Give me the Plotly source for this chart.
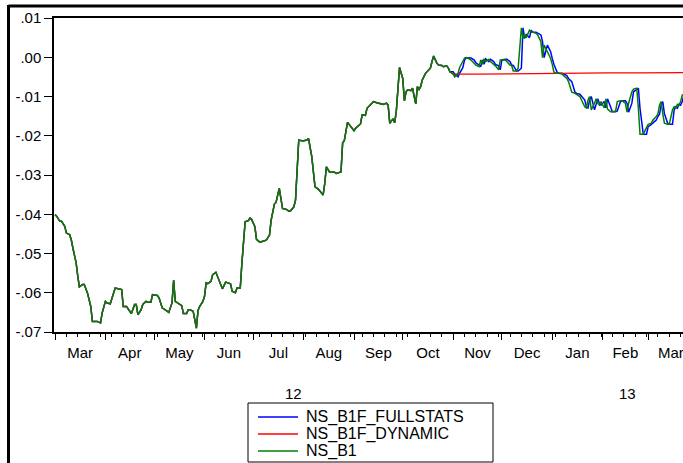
import pandas as pd
import plotly.graph_objects as go

# Observation days, counted from 2012-03-01
days = [
    0, 1, 3, 4, 6, 7, 9, 10, 11, 13, 14, 15, 17, 18, 20, 22, 23, 26, 28, 29,
    31, 32, 34, 37, 39, 41, 42, 44, 46, 47, 49, 50, 51, 53, 54, 56, 57, 59, 60, 63,
    64, 66, 67, 69, 70, 72, 73, 74, 76, 78, 79, 81, 82, 83, 85, 87, 88, 89, 91, 92,
    93, 94, 96, 97, 99, 100, 102, 103, 105, 106, 108, 109, 111, 112, 114, 115, 116, 117, 119, 120,
    121, 123, 124, 126, 127, 129, 130, 132, 133, 135, 136, 138, 139, 140, 142, 144, 145, 147, 148, 150,
    152, 153, 155, 156, 158, 159, 160, 162, 164, 165, 166, 167, 169, 170, 172, 173, 175, 176, 177, 178,
    180, 182, 184, 185, 187, 188, 189, 191, 192, 194, 196, 198, 200, 202, 204, 205, 206, 208, 209, 210,
    212, 214, 215, 216, 217, 219, 220, 222, 223, 224, 225, 226, 228, 229, 231, 232, 233, 235, 236, 238,
    239, 241, 242, 243,
    245, 246, 248, 249, 251, 252, 253, 254, 256, 258, 259, 261, 262, 263, 264, 265, 267, 268, 270, 271,
    273, 274, 275, 277, 278, 280, 281, 282, 284, 285, 287, 288, 289, 290, 292, 293, 294, 296, 297, 299,
    300, 301, 303, 305, 306, 307, 309, 310, 312, 313, 315, 316, 318, 320, 321, 323, 324, 326, 327, 328,
    329, 330, 332, 333, 334, 335, 336, 338, 339, 340, 342, 343, 345, 346, 348, 349, 351, 352, 353, 355,
    356, 358, 359, 360, 362, 364, 365, 367, 368, 370, 371, 372, 373, 374, 375, 377, 378, 380, 381, 382,
    383, 384, 385, 386, 387,
]

# Actual series NS_B1
ns_b1 = [
    -0.0401, -0.0405, -0.0418, -0.0418, -0.0431, -0.0448, -0.0452, -0.0465, -0.0486, -0.0524,
    -0.0558, -0.0585, -0.0579, -0.0579, -0.0601, -0.0635, -0.0673, -0.0673, -0.0677, -0.0652,
    -0.0622, -0.0626, -0.0628, -0.0588, -0.0590, -0.0592, -0.0635, -0.0635, -0.0647, -0.0653,
    -0.0630, -0.0630, -0.0656, -0.0643, -0.0630, -0.0622, -0.0624, -0.0624, -0.0605, -0.0607,
    -0.0613, -0.0639, -0.0641, -0.0647, -0.0650, -0.0626, -0.0568, -0.0622, -0.0628, -0.0633,
    -0.0653, -0.0653, -0.0643, -0.0643, -0.0647, -0.0690, -0.0645, -0.0635, -0.0622, -0.0609,
    -0.0575, -0.0577, -0.0571, -0.0554, -0.0548, -0.0558, -0.0579, -0.0590, -0.0573, -0.0575,
    -0.0577, -0.0596, -0.0600, -0.0588, -0.0588, -0.0525, -0.0474, -0.0419, -0.0416, -0.0410,
    -0.0413, -0.0432, -0.0464, -0.0471, -0.0470, -0.0466, -0.0466, -0.0453, -0.0415, -0.0374,
    -0.0370, -0.0334, -0.0364, -0.0385, -0.0387, -0.0392, -0.0391, -0.0381, -0.0364, -0.0211,
    -0.0213, -0.0213, -0.0211, -0.0207, -0.0253, -0.0287, -0.0330, -0.0336, -0.0347, -0.0351,
    -0.0321, -0.0279, -0.0293, -0.0293, -0.0293, -0.0296, -0.0292, -0.0292, -0.0218, -0.0213,
    -0.0166, -0.0177, -0.0187, -0.0181, -0.0174, -0.0170, -0.0147, -0.0148, -0.0130, -0.0122,
    -0.0113, -0.0116, -0.0118, -0.0120, -0.0117, -0.0122, -0.0168, -0.0157, -0.0167, -0.0139,
    -0.0026, -0.0054, -0.0111, -0.0088, -0.0083, -0.0085, -0.0079, -0.0119, -0.0075, -0.0082,
    -0.0075, -0.0058, -0.0041, -0.0037, -0.0028, -0.0011, 0.0003, -0.0015, -0.0020, -0.0021,
    -0.0024, -0.0022, -0.0027, -0.0037,
    -0.0043, -0.0050, -0.0041, -0.0026, -0.0007, -0.0002, -0.0001, -0.0002, -0.0007, -0.0014,
    -0.0020, -0.0024, -0.0007, -0.0018, -0.0004, -0.0011, -0.0005, -0.0011, -0.0018, -0.0022,
    -0.0032, -0.0007, -0.0007, -0.0005, -0.0011, -0.0020, -0.0021, -0.0035, -0.0035, -0.0028,
    0.0075, 0.0048, 0.0058, 0.0050, 0.0069, 0.0064, 0.0064, 0.0061, 0.0057, 0.0040,
    -0.0001, 0.0031, 0.0014, -0.0003, -0.0018, -0.0038, -0.0041, -0.0041, -0.0043, -0.0047,
    -0.0054, -0.0062, -0.0089, -0.0092, -0.0094, -0.0100, -0.0109, -0.0126, -0.0129, -0.0109,
    -0.0100, -0.0134, -0.0117, -0.0106, -0.0117, -0.0122, -0.0113, -0.0129, -0.0106, -0.0132,
    -0.0139, -0.0139, -0.0137, -0.0113, -0.0111, -0.0111, -0.0117, -0.0140, -0.0117, -0.0088,
    -0.0081, -0.0079, -0.0130, -0.0196, -0.0196, -0.0177, -0.0171, -0.0168, -0.0160, -0.0151,
    -0.0145, -0.0122, -0.0113, -0.0143, -0.0168, -0.0171, -0.0171, -0.0134, -0.0126, -0.0130,
    -0.0120, -0.0122, -0.0113, -0.0096, -0.0094,
]

# Forecast sample starts 2012-11-01 (day 245); actuals are kept before it
forecast_start_day = 245

# One-step-ahead (full statistics) forecast over the forecast sample
fullstats_fc = [
    -0.0037, -0.0043, -0.0050, -0.0041, -0.0026, -0.0007, -0.0002, -0.0001, -0.0002, -0.0007,
    -0.0014, -0.0020, -0.0024, -0.0007, -0.0018, -0.0004, -0.0011, -0.0005, -0.0011, -0.0018,
    -0.0022, -0.0032, -0.0007, -0.0007, -0.0005, -0.0011, -0.0020, -0.0021, -0.0035, -0.0035,
    -0.0028, 0.0075, 0.0048, 0.0058, 0.0050, 0.0069, 0.0064, 0.0064, 0.0061, 0.0057,
    0.0040, -0.0001, 0.0031, 0.0014, -0.0003, -0.0018, -0.0038, -0.0041, -0.0041, -0.0043,
    -0.0047, -0.0054, -0.0062, -0.0089, -0.0092, -0.0094, -0.0100, -0.0109, -0.0126, -0.0129,
    -0.0109, -0.0100, -0.0134, -0.0117, -0.0106, -0.0117, -0.0122, -0.0113, -0.0129, -0.0106,
    -0.0132, -0.0139, -0.0139, -0.0137, -0.0113, -0.0111, -0.0111, -0.0117, -0.0140, -0.0117,
    -0.0088, -0.0081, -0.0079, -0.0130, -0.0196, -0.0196, -0.0177, -0.0171, -0.0168, -0.0160,
    -0.0151, -0.0145, -0.0122, -0.0113, -0.0143, -0.0168, -0.0171, -0.0171, -0.0134, -0.0126,
    -0.0130, -0.0120, -0.0122, -0.0113, -0.0096,
]

# Dynamic forecast over the forecast sample
dynamic_days = [245, 260, 280, 300, 320, 340, 360, 387]
dynamic_fc = [-0.0043, -0.0043, -0.0042, -0.0041, -0.0041, -0.0040, -0.0040, -0.0039]

series_names = ["NS_B1F_FULLSTATS", "NS_B1F_DYNAMIC", "NS_B1"]
series_colors = ["#0000ff", "#ff0000", "#008000"]

y_ticks = [-0.07, -0.06, -0.05, -0.04, -0.03, -0.02, -0.01, 0.00, 0.01]
y_tick_text = ["-.07", "-.06", "-.05", "-.04", "-.03", "-.02", "-.01", ".00", ".01"]

year_labels = ["12", "13"]
year_label_dates = ["2012-07-26", "2013-02-16"]

base = pd.Timestamp("2012-03-01")


def to_dates(d):
    return base + pd.to_timedelta(d, unit="D")


n_hist = sum(1 for d in days if d < forecast_start_day)
hist_days = days[:n_hist]
hist_vals = ns_b1[:n_hist]
fc_days = days[n_hist:]

FONT = "Liberation Sans, Arial, sans-serif"

fig = go.Figure()
fig.add_trace(go.Scatter(
    x=to_dates(hist_days + fc_days), y=hist_vals + fullstats_fc,
    mode="lines", name=series_names[0], line=dict(color=series_colors[0], width=1.5),
))
fig.add_trace(go.Scatter(
    x=to_dates(hist_days + dynamic_days), y=hist_vals + dynamic_fc,
    mode="lines", name=series_names[1], line=dict(color=series_colors[1], width=1.3),
))
fig.add_trace(go.Scatter(
    x=to_dates(days), y=ns_b1,
    mode="lines", name=series_names[2], line=dict(color=series_colors[2], width=1.5),
))

# plot area spans pixels x 54..683, y 18..332
L, T, W, H = 54, 18, 629, 314


def px(x):
    return (x - L) / W


def py(y):
    return (T + H - y) / H


shapes = [
    # outer frame
    dict(type="line", xref="paper", yref="paper", x0=px(8.5), x1=px(700),
         y0=py(6), y1=py(6), line=dict(color="black", width=3)),
    dict(type="line", xref="paper", yref="paper", x0=px(8.5), x1=px(8.5),
         y0=py(5), y1=py(480), line=dict(color="black", width=3)),
    # legend box
    dict(type="rect", xref="paper", yref="paper", x0=px(248), x1=px(493),
         y0=py(462), y1=py(403), line=dict(color="black", width=1),
         fillcolor="white"),
]

annotations = [
    dict(text=t, x=d, xref="x", y=py(393), yref="paper", showarrow=False,
         xanchor="center", yanchor="middle", font=dict(family=FONT, size=15, color="black"))
    for t, d in zip(year_labels, year_label_dates)
]

# legend entries: sample line plus series name
legend_rows = [417, 434, 451]
for name, color, row in zip(series_names, series_colors, legend_rows):
    shapes.append(dict(type="line", xref="paper", yref="paper",
                       x0=px(258), x1=px(298), y0=py(row), y1=py(row),
                       line=dict(color=color, width=1.5)))
    annotations.append(dict(text=name, x=px(304), y=py(row), xref="paper", yref="paper",
                            showarrow=False, xanchor="left", yanchor="middle",
                            font=dict(family=FONT, size=16, color="black")))

fig.update_layout(
    width=683, height=463,
    margin=dict(l=L, r=0, t=T, b=463 - T - H),
    paper_bgcolor="white", plot_bgcolor="white",
    font=dict(family=FONT, size=15, color="black"),
    showlegend=False,
    shapes=shapes,
    annotations=annotations,
)

fig.update_xaxes(
    type="date",
    range=["2012-02-29 09:00", "2013-03-22 11:00"],
    tick0="2012-03-01", dtick="M1", tickformat="%b", ticklabelmode="period",
    ticklabeloverflow="allow",
    ticks="outside", ticklen=6, tickwidth=1, tickcolor="black",
    minor=dict(ticks="outside", ticklen=3, tickwidth=1, tickcolor="black",
               tick0="2012-03-01", dtick=7 * 86400000, showgrid=False),
    showline=True, linecolor="black", linewidth=1.5, mirror=True,
    showgrid=False, zeroline=False,
    tickfont=dict(family=FONT, size=15, color="black"),
)
fig.update_yaxes(
    range=[-0.07, 0.01],
    tickmode="array", tickvals=y_ticks, ticktext=y_tick_text,
    ticks="outside", ticklen=8, tickwidth=1, tickcolor="black",
    showline=True, linecolor="black", linewidth=1.5, mirror=False,
    showgrid=False, zeroline=False,
    tickfont=dict(family=FONT, size=15, color="black"),
)

fig.write_html("out.html")
